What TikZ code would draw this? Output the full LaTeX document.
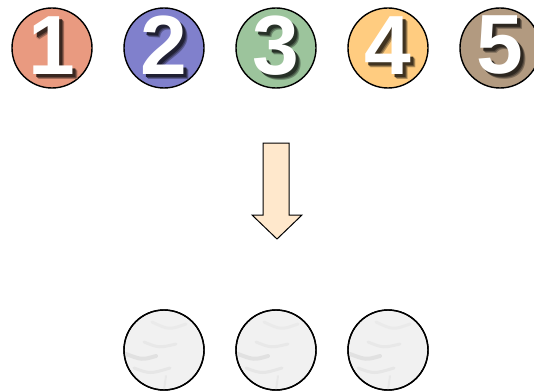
\documentclass[tikz,border=0pt]{standalone}
\usepackage{fontspec}
\setmainfont{Liberation Sans}
\definecolor{cA}{HTML}{E99A80}
\definecolor{cB}{HTML}{8080CC}
\definecolor{cC}{HTML}{9CC49C}
\definecolor{cD}{HTML}{FFCC80}
\definecolor{cE}{HTML}{B29A80}
\definecolor{arrowfill}{HTML}{FFE8CC}
\definecolor{marble}{HTML}{F1F1F1}
\tikzset{
  ball/.style={circle, draw=black, line width=1.4pt, minimum size=80pt, inner sep=0pt},
  digit/.style={font=\fontsize{84}{84}\selectfont\bfseries, inner sep=0pt},
  streak/.style={line cap=round, opacity=0.35},
}
\newcommand{\shadowdigit}[2]{%
  \rlap{\hspace{5pt}\raisebox{-5pt}{\textcolor{#2!70!black}{#1}}}%
  \rlap{\hspace{4pt}\raisebox{-4pt}{\textcolor{#2!45!black}{#1}}}%
  \rlap{\hspace{3pt}\raisebox{-3pt}{\textcolor{#2!25!black}{#1}}}%
  \textcolor{white}{#1}}
\newcommand{\numball}[4]{%
  \node[ball, fill=#4] (#1) at (#2,48) {};
  \node[digit] (#1t) at (#1.center) {\shadowdigit{#3}{#4}};
}
\begin{document}
\begin{tikzpicture}[x=1pt,y=-1pt]
\useasboundingbox (0,0) rectangle (534,390);
\begin{scope}
\clip (0,0) rectangle (534,390);
\numball{c1}{52}{1}{cA}
\numball{c2}{164}{2}{cB}
\numball{c3}{276}{3}{cC}
\numball{c4}{388}{4}{cD}
\numball{c5}{500}{5}{cE}
\draw[black, line width=1pt, fill=arrowfill, line join=miter]
  (263,143) -- (289,143) -- (289,215) -- (302,215) -- (277,239) -- (252,215) -- (263,215) -- cycle;
\foreach \n/\x in {b1/164,b2/276,b3/388}{
  \node[ball, fill=marble] (\n) at (\x,350) {};
  \begin{scope}
    \clip (\n) circle (39pt);
    \draw[streak, gray!45, line width=4pt] ([xshift=-38pt,yshift=-4pt]\n.center) .. controls ([xshift=-22pt,yshift=-10pt]\n.center) .. ([xshift=-8pt,yshift=-6pt]\n.center);
    \draw[streak, gray!35, line width=3pt] ([xshift=-30pt,yshift=-18pt]\n.center) .. controls ([xshift=-14pt,yshift=-24pt]\n.center) .. ([xshift=6pt,yshift=-18pt]\n.center);
    \draw[streak, gray!30, line width=3pt] ([xshift=-20pt,yshift=8pt]\n.center) .. controls ([xshift=-5pt,yshift=2pt]\n.center) .. ([xshift=12pt,yshift=6pt]\n.center);
    \draw[streak, gray!30, line width=2pt] ([xshift=0pt,yshift=-40pt]\n.center) -- ([xshift=2pt,yshift=-26pt]\n.center);
    \draw[streak, gray!25, line width=3pt] ([xshift=-12pt,yshift=28pt]\n.center) .. controls ([xshift=5pt,yshift=20pt]\n.center) .. ([xshift=22pt,yshift=26pt]\n.center);
  \end{scope}
  \draw[black, line width=1.4pt] (\n) circle (40pt);
}
\end{scope}
\end{tikzpicture}
\end{document}
